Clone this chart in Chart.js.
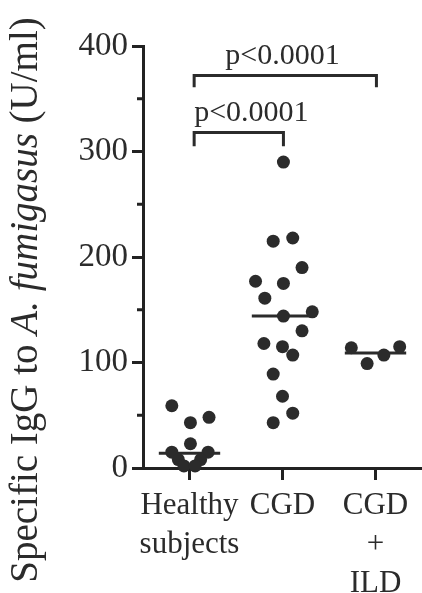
<!DOCTYPE html>
<html>
<head>
<meta charset="utf-8">
<script src="https://cdn.jsdelivr.net/npm/chart.js@4.4.1/dist/chart.umd.min.js"></script>
<style>
  html, body { margin: 0; padding: 0; background: #fff; }
  #wrap { width: 422px; height: 593px; }
</style>
</head>
<body>
<div id="wrap"><canvas id="chart"></canvas></div>
<script>
// Groups on the x axis (one entry per label line)
const categories = [['Healthy', 'subjects'], ['CGD'], ['CGD', '+', 'ILD']];

// Specific IgG (U/ml), with the sideways spread of each dot (category units)
const healthyValues = [59, 48, 43, 23, 15, 15, 8, 8, 2, 2];
const healthyJitter = [-0.19, 0.21, 0.01, 0.01, -0.19, 0.2, -0.12, 0.12, -0.06, 0.06];
const cgdValues = [290, 215, 218, 190, 177, 175, 161, 144, 148, 130, 118, 115, 107, 89, 68, 52, 43];
const cgdJitter = [0.01, -0.1, 0.11, 0.21, -0.29, 0.01, -0.19, 0.01, 0.32, 0.21, -0.2, 0, 0.11, -0.1, 0, 0.11, -0.1];
const ildValues = [114, 115, 107, 99];
const ildJitter = [-0.26, 0.26, 0.09, -0.09];

// Median of each group
const medians = [14, 144, 109];

// Axis ticks
const yTicks = [0, 100, 200, 300, 400];
const yMinorTicks = [50, 150, 250, 350];

// Significance brackets: groups compared, label, height of bar and of legs (U/ml)
const comparisons = [[0, 1], [0, 2]];
const pLabels = ['p<0.0001', 'p<0.0001'];
const bracketTop = [318, 372];
const bracketLeg = [305, 361];

const ink = '#2b2b2b';
const serif = "'Liberation Serif', 'DejaVu Serif', serif";

function dots(values, jitter, group) {
  return values.map((v, i) => ({ x: group + jitter[i], y: v }));
}

const datasets = [];
[[healthyValues, healthyJitter], [cgdValues, cgdJitter], [ildValues, ildJitter]].forEach((g, i) => {
  datasets.push({
    data: dots(g[0], g[1], i),
    pointRadius: 6.5,
    pointBackgroundColor: ink,
    pointBorderWidth: 0,
    clip: false
  });
});

// Median bars
medians.forEach((m, i) => {
  datasets.push({
    data: [{ x: i - 0.33, y: m }, { x: i + 0.33, y: m }],
    showLine: true,
    borderColor: ink,
    borderWidth: 3,
    pointRadius: 0,
    clip: false
  });
});

// Brackets
comparisons.forEach((c, i) => {
  const a = c[0] + 0.05, b = c[1] + 0.01;
  datasets.push({
    data: [{ x: a, y: bracketLeg[i] }, { x: a, y: bracketTop[i] }, { x: b, y: bracketTop[i] }, { x: b, y: bracketLeg[i] }],
    showLine: true,
    borderColor: ink,
    borderWidth: 3,
    pointRadius: 0,
    clip: false
  });
});

// Short minor ticks on the y axis, p-value labels, and the y axis title with italic species name
const extras = {
  id: 'extras',
  afterDraw(chart) {
    const ctx = chart.ctx;
    const xs = chart.scales.x, ys = chart.scales.y;
    ctx.save();

    ctx.strokeStyle = '#222';
    ctx.lineWidth = 3;
    yMinorTicks.forEach(v => {
      const y = ys.getPixelForValue(v);
      ctx.beginPath();
      ctx.moveTo(chart.chartArea.left - 6, y);
      ctx.lineTo(chart.chartArea.left, y);
      ctx.stroke();
    });

    ctx.fillStyle = ink;
    ctx.font = '30px ' + serif;
    ctx.textBaseline = 'alphabetic';
    comparisons.forEach((c, i) => {
      const y = ys.getPixelForValue(bracketTop[i]) - 12;
      if (i === 0) {
        ctx.textAlign = 'left';
        ctx.fillText(pLabels[i], xs.getPixelForValue(c[0] + 0.05), y);
      } else {
        ctx.textAlign = 'center';
        ctx.fillText(pLabels[i], (xs.getPixelForValue(c[0]) + xs.getPixelForValue(c[1])) / 2, y);
      }
    });

    const parts = [['Specific IgG to ', ''], ['A. fumigasus', 'italic '], [' (U/ml)', '']];
    ctx.translate(37, 300);
    ctx.rotate(-Math.PI / 2);
    ctx.textAlign = 'left';
    let total = 0;
    parts.forEach(p => { ctx.font = p[1] + '39px ' + serif; total += ctx.measureText(p[0]).width; });
    let x = -total / 2;
    parts.forEach(p => {
      ctx.font = p[1] + '39px ' + serif;
      ctx.fillText(p[0], x, 0);
      x += ctx.measureText(p[0]).width;
    });
    ctx.restore();
  }
};

new Chart(document.getElementById('chart'), {
  type: 'scatter',
  data: { datasets: datasets },
  options: {
    responsive: true,
    maintainAspectRatio: false,
    animation: false,
    layout: { autoPadding: false, padding: { top: 46, right: 0, bottom: 0, left: 0 } },
    plugins: { legend: { display: false }, tooltip: { enabled: false } },
    scales: {
      x: {
        type: 'linear',
        min: -0.5,
        max: 2.5,
        afterBuildTicks: s => { s.ticks = categories.map((c, i) => ({ value: i })); },
        afterFit: s => { s.height = 125; s.paddingLeft = 0; s.paddingRight = 0; },
        ticks: {
          callback: v => categories[v],
          color: ink,
          padding: 6,
          maxRotation: 0,
          font: { family: serif, size: 31, lineHeight: 1.26 }
        },
        grid: { drawOnChartArea: false, drawTicks: true, tickLength: 12, lineWidth: 3, color: '#222' },
        border: { display: true, color: '#222', width: 3 }
      },
      y: {
        min: 0,
        max: 400,
        afterBuildTicks: s => { s.ticks = yTicks.map(v => ({ value: v })); },
        afterFit: s => { s.width = 143; },
        ticks: {
          color: ink,
          padding: 4,
          font: { family: serif, size: 33 }
        },
        grid: { drawOnChartArea: false, drawTicks: true, tickLength: 11, lineWidth: 3, color: '#222' },
        border: { display: true, color: '#222', width: 3 }
      }
    }
  },
  plugins: [extras]
});
</script>
</body>
</html>
